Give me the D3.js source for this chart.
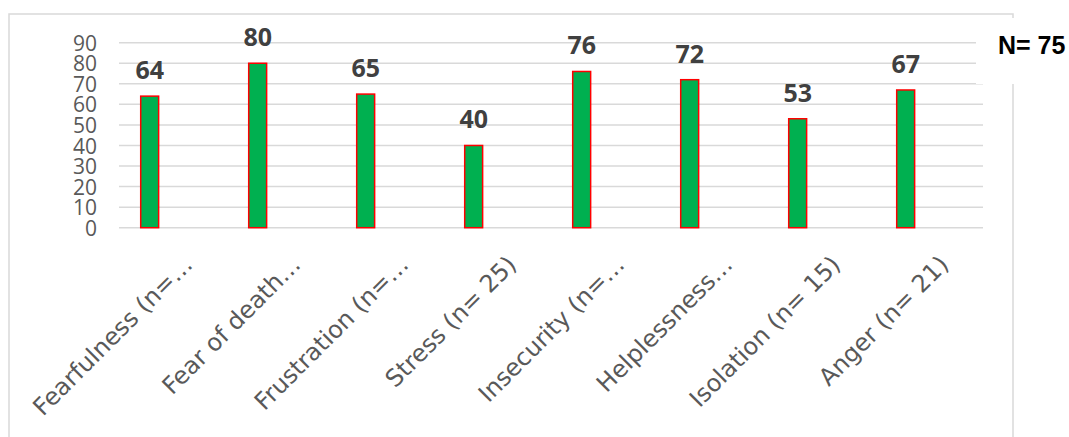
<!DOCTYPE html>
<html>
<head>
<meta charset="utf-8">
<script src="https://cdn.jsdelivr.net/npm/d3@7"></script>
<style>
  html, body { margin: 0; padding: 0; background: #fff; }
  svg { display: block; }
</style>
</head>
<body>
<svg id="chart" width="1069" height="437"></svg>
<script>
// ---- data ----
const categories = ["Fearfulness (n=…", "Fear of death…", "Frustration (n=…", "Stress (n= 25)", "Insecurity (n=…", "Helplessness…", "Isolation (n= 15)", "Anger (n= 21)"];
const values = [64, 80, 65, 40, 76, 72, 53, 67];
const yTicks = [0, 10, 20, 30, 40, 50, 60, 70, 80, 90];
const totalLabel = "N= 75";

// ---- layout ----
const W = 1069, H = 437;
const plot = { left: 119, right: 983, top: 42.7, bottom: 227.7 };
const svg = d3.select("#chart");

// frame
const frameColor = "#d9d9d9";
svg.append("path")
  .attr("d", `M9,${H + 5} L9,14 L1013,14 L1013,${H + 5}`)
  .attr("fill", "none").attr("stroke", frameColor).attr("stroke-width", 1.5);

const x = d3.scaleBand().domain(categories).range([plot.left, plot.right]).padding(0);
const y = d3.scaleLinear().domain([0, 90]).range([plot.bottom, plot.top]);

// gridlines
svg.append("g").selectAll("line").data(yTicks).join("line")
  .attr("x1", plot.left).attr("x2", plot.right)
  .attr("y1", d => y(d)).attr("y2", d => y(d))
  .attr("stroke", frameColor).attr("stroke-width", 1.5);

// y axis labels
const yAxis = d3.axisLeft(y).tickValues(yTicks).tickSize(0).tickPadding(0);
const yg = svg.append("g").attr("transform", "translate(97,0)").call(yAxis);
yg.select(".domain").remove();
yg.selectAll("text")
  .attr("font-family", "'Open Sans', sans-serif")
  .attr("font-size", 21).attr("fill", "#595959").attr("dy", "0.36em");

// bars
const bw = x.bandwidth();
const barOff = bw * 0.194, barW = bw * 0.18;
svg.append("g").selectAll("rect").data(values).join("rect")
  .attr("x", (d, i) => x(categories[i]) + barOff + 0.75)
  .attr("width", barW - 1.5)
  .attr("y", d => y(d))
  .attr("height", d => y(0) - y(d))
  .attr("fill", "#00B050").attr("stroke", "#FF0000").attr("stroke-width", 1.5);

// data labels
svg.append("g").selectAll("text").data(values).join("text")
  .attr("x", (d, i) => x(categories[i]) + barOff + barW / 2)
  .attr("y", d => y(d) - 17)
  .attr("text-anchor", "middle")
  .attr("font-family", "'Open Sans', sans-serif").attr("font-weight", "bold")
  .attr("font-size", 25).attr("fill", "#404040")
  .text(d => d);

// category labels
svg.append("g").selectAll("text").data(categories).join("text")
  .attr("transform", d => `translate(${x(d) + bw / 2 + 21},266) rotate(-45)`)
  .attr("text-anchor", "end")
  .attr("font-family", "'DejaVu Sans', sans-serif")
  .attr("font-size", 24).attr("fill", "#595959")
  .text(d => d);

// N label box
svg.append("rect").attr("x", 976).attr("y", 18).attr("width", 93).attr("height", 66).attr("fill", "#fff");
svg.append("text").attr("x", 998).attr("y", 53.5)
  .attr("font-family", "'Liberation Sans', Arial, sans-serif").attr("font-weight", "bold")
  .attr("font-size", 25).attr("fill", "#000")
  .text(totalLabel);
</script>
</body>
</html>
